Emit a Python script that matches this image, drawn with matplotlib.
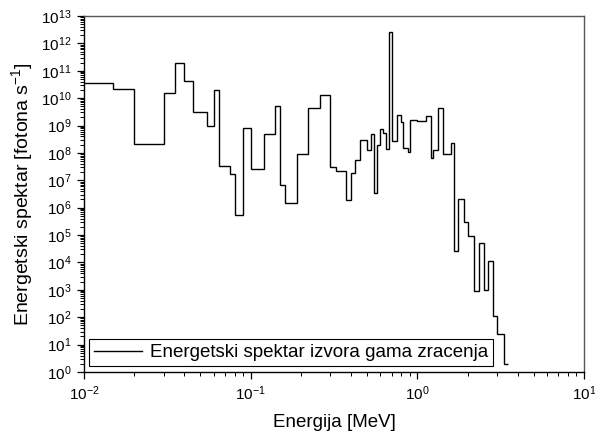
import numpy as np
import matplotlib
matplotlib.use("Agg")
import matplotlib.pyplot as plt
from matplotlib.ticker import LogLocator, NullFormatter

plt.rcParams['font.family'] = ['Liberation Sans', 'DejaVu Sans']
plt.rcParams['mathtext.fontset'] = 'custom'
plt.rcParams['mathtext.rm'] = 'Liberation Sans'
plt.rcParams['mathtext.it'] = 'Liberation Sans:italic'

# Bin edges (MeV)
energy_edges = [0.01, 0.015, 0.02, 0.03, 0.035, 0.04, 0.045, 0.055, 0.06, 0.065,
                0.075, 0.08, 0.09, 0.1, 0.12, 0.14, 0.15, 0.16, 0.19, 0.22,
                0.26, 0.30, 0.325, 0.375, 0.40, 0.425, 0.45, 0.50, 0.525, 0.55,
                0.575, 0.60, 0.62, 0.65, 0.675, 0.70, 0.75, 0.80, 0.825, 0.875,
                0.90, 1.0, 1.125, 1.2, 1.25, 1.33, 1.42, 1.6, 1.66, 1.75,
                1.9, 2.0, 2.2, 2.33, 2.5, 2.67, 2.83, 3.0, 3.33, 3.5]

# Photon rate per bin (photons / s)
spectrum = [3.5e10, 2.1e10, 2.1e8, 1.6e10, 1.9e11, 4.4e10, 3.0e9, 9.5e8, 2.0e10,
            3.3e7, 1.7e7, 5.5e5, 7.9e8, 2.5e7, 4.9e8, 5.1e9, 6.6e6, 1.45e6, 8.9e7,
            4.2e9, 1.35e10, 3.0e7, 2.2e7, 1.9e6, 1.8e7, 5.5e7, 2.9e8, 1.3e8, 4.8e8,
            3.5e6, 2.0e8, 7.2e8, 5.2e8, 1.35e8, 2.7e12, 2.75e8, 2.5e9, 1.4e9, 1.55e8,
            1.05e8, 1.6e9, 1.5e9, 2.3e9, 6.8e7, 1.3e8, 4.4e9, 8.9e7, 2.3e8, 2.6e4,
            2.0e6, 3.0e5, 9.3e4, 930, 5.0e4, 1.0e3, 1.1e4, 112, 24.5, 2.0]

series_label = "Energetski spektar izvora gama zracenja"
x_label = "Energija [MeV]"
y_label = r"Energetski spektar [fotona s$^{-1}$]"

fig = plt.figure(figsize=(5.95, 4.34), dpi=100)
ax = fig.add_axes([84/595, 1-372/434, 500/595, 356/434])

ax.stairs(spectrum, energy_edges, baseline=None, color='black', linewidth=1.0,
          label=series_label)

ax.set_xscale('log')
ax.set_yscale('log')
ax.set_xlim(1e-2, 1e1)
ax.set_ylim(1e0, 1e13)

ax.xaxis.set_major_locator(LogLocator(base=10, numticks=20))
ax.xaxis.set_minor_locator(LogLocator(base=10, subs=np.arange(2, 10), numticks=100))
ax.yaxis.set_major_locator(LogLocator(base=10, numticks=30))
ax.yaxis.set_minor_locator(LogLocator(base=10, subs=np.arange(2, 10), numticks=200))
ax.xaxis.set_minor_formatter(NullFormatter())
ax.yaxis.set_minor_formatter(NullFormatter())

ax.tick_params(which='major', direction='out', length=5, width=0.9, labelsize=11,
               top=False, right=False)
ax.tick_params(which='minor', direction='out', length=3, width=0.7,
               top=False, right=False)
ax.tick_params(axis='y', which='major', pad=4)
ax.tick_params(axis='x', which='major', pad=4)

for s in ax.spines.values():
    s.set_linewidth(1.0)
    s.set_color('black')
ax.spines['top'].set_color('#555555')
ax.spines['right'].set_color('#555555')

ax.set_xlabel(x_label, fontsize=13.5, labelpad=8)
ax.set_ylabel(y_label, fontsize=14, labelpad=4)

leg = ax.legend(loc='lower left', bbox_to_anchor=(0.01, 0.017), borderaxespad=0,
                fontsize=13.5, frameon=True, fancybox=False, framealpha=1,
                edgecolor='black', handlelength=2.6, handletextpad=0.4,
                borderpad=0.25)
leg.get_frame().set_linewidth(0.8)

fig.savefig('out.png', dpi=100)
